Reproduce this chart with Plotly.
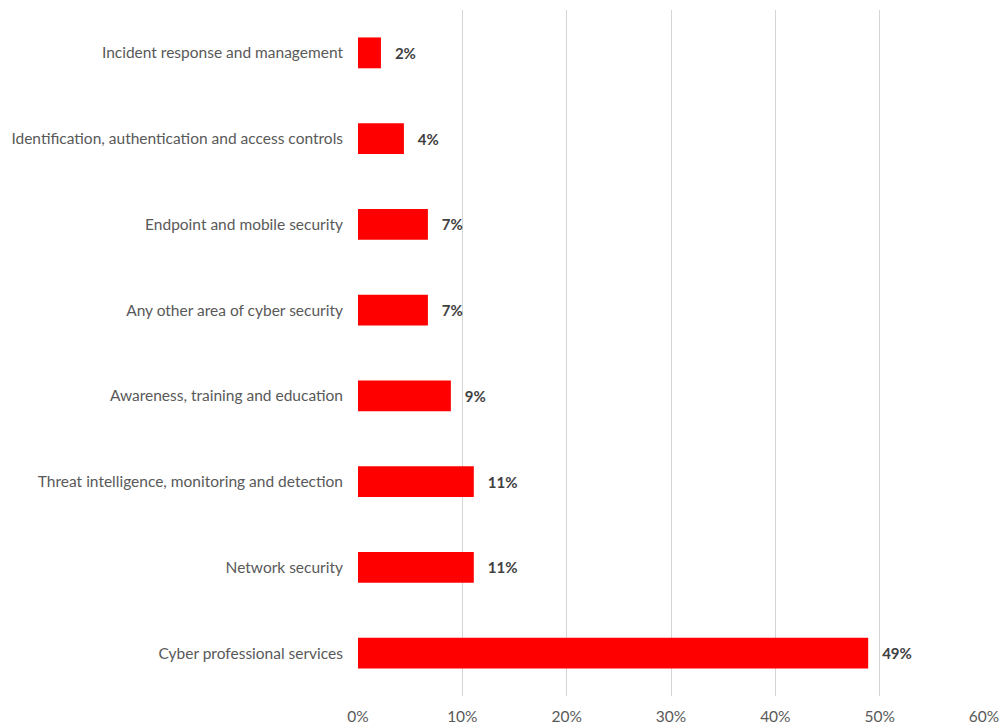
import plotly.graph_objects as go

# Share of respondents by cyber security area (percent)
categories = [
    "Cyber professional services",
    "Network security",
    "Threat intelligence, monitoring and detection",
    "Awareness, training and education",
    "Any other area of cyber security",
    "Endpoint and mobile security",
    "Identification, authentication and access controls",
    "Incident response and management",
]
shares = [48.9, 11.1, 11.1, 8.9, 6.7, 6.7, 4.4, 2.2]

tick_vals = [0, 10, 20, 30, 40, 50, 60]
tick_text = ["0%", "10%", "20%", "30%", "40%", "50%", "60%"]

FONT = "Lato, 'Open Sans', sans-serif"

fig = go.Figure(
    go.Bar(
        x=shares,
        y=categories,
        orientation="h",
        marker=dict(color="#ff0000", line=dict(width=0)),
        texttemplate="   %{x:.0f}%",
        textposition="outside",
        textfont=dict(family=FONT, size=15, color="#404040", weight="bold"),
        cliponaxis=False,
        hoverinfo="skip",
    )
)

fig.update_layout(
    width=1000,
    height=724,
    margin=dict(l=358, r=16, t=10, b=28, autoexpand=False),
    paper_bgcolor="white",
    plot_bgcolor="white",
    bargap=0.64,
    showlegend=False,
    font=dict(family=FONT, size=15.5, color="#595959"),
)

fig.update_xaxes(
    range=[0, 60],
    tickvals=tick_vals,
    ticktext=tick_text,
    showgrid=True,
    gridcolor="#d4d4d4",
    gridwidth=1,
    zeroline=False,
    showline=False,
    ticks="",
    ticklabelstandoff=9,
    tickfont=dict(family=FONT, size=15.5, color="#595959"),
)

fig.update_yaxes(
    categoryorder="array",
    categoryarray=categories,
    showgrid=False,
    zeroline=False,
    showline=False,
    ticks="",
    ticklabelstandoff=14,
    tickfont=dict(family=FONT, size=15.5, color="#595959"),
)

fig.write_html("out.html")
